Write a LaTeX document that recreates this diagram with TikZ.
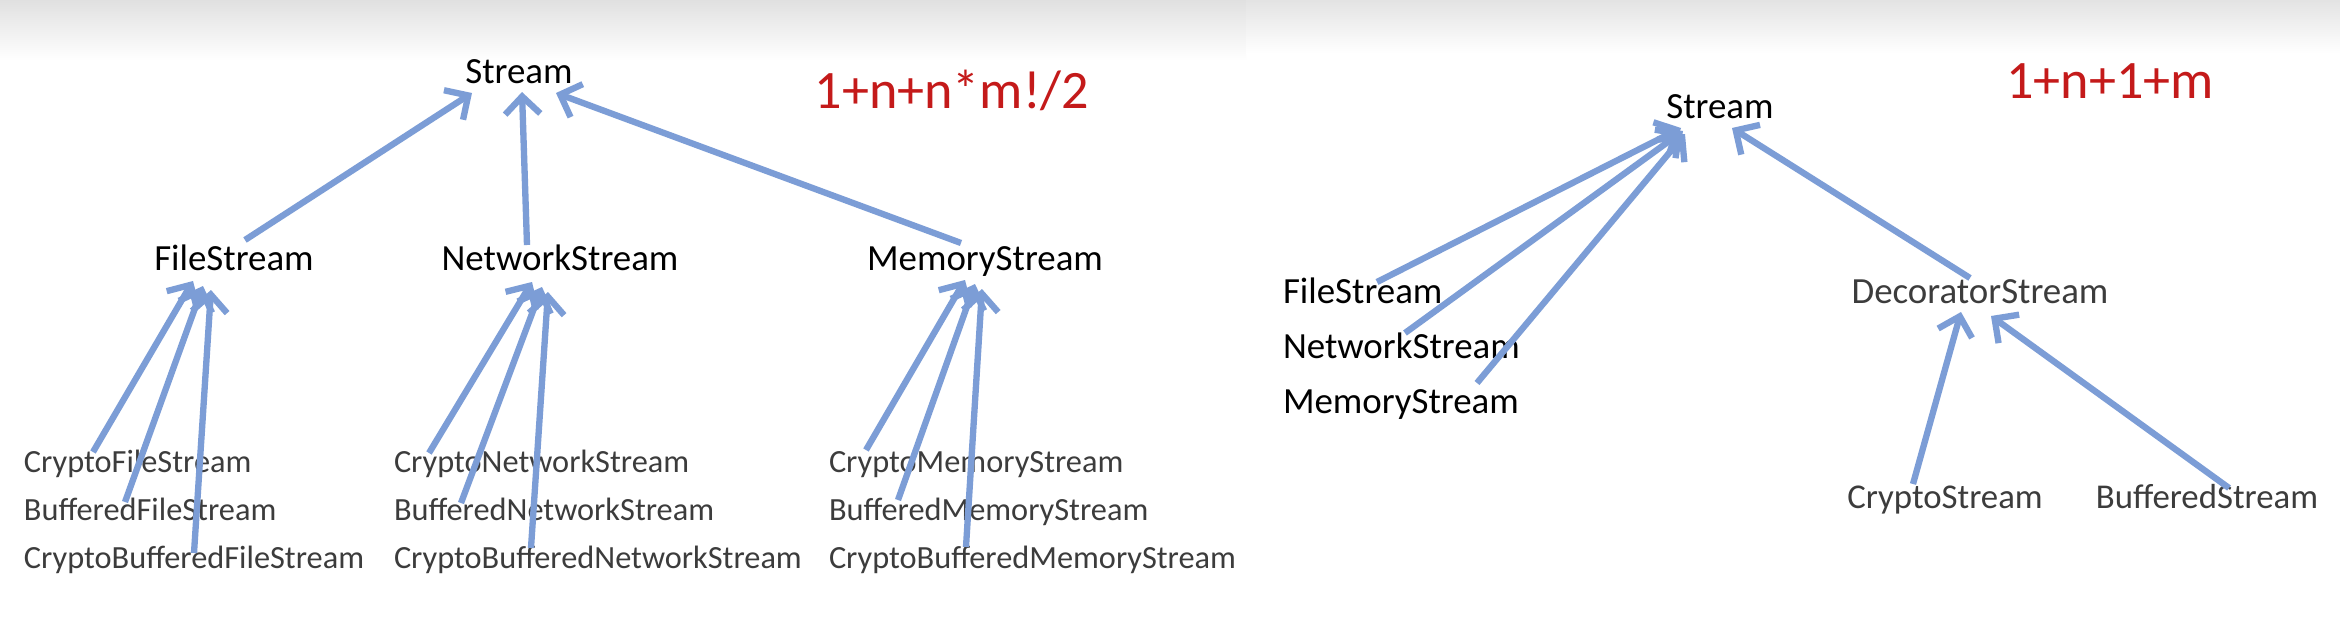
\documentclass[tikz,border=0pt]{standalone}
\usepackage{fontspec}
\setmainfont{Carlito}
\usetikzlibrary{arrows.meta}
\definecolor{arrblue}{RGB}{124,157,214}
\definecolor{formred}{RGB}{196,26,26}
\definecolor{subgray}{RGB}{60,60,60}
\tikzset{
  lbl/.style={inner sep=0pt, outer sep=0pt, text=black, font=\fontsize{10.5}{12}\selectfont},
  sub/.style={inner sep=0pt, outer sep=0pt, text=subgray, font=\fontsize{9.2}{11}\selectfont},
  subr/.style={inner sep=0pt, outer sep=0pt, text=subgray, font=\fontsize{9.9}{11}\selectfont},
  formula/.style={inner sep=0pt, outer sep=0pt, text=formred, font=\fontsize{15.4}{18}\selectfont},
  arr/.style={draw=arrblue, line width=1.8pt, -{Straight Barb[length=5pt,width=10pt]}}
}
\begin{document}
\begin{tikzpicture}
\useasboundingbox (0,0) rectangle (23.4,-6.32);
\fill[white] (0,0) rectangle (23.4,-6.32);
% slide header gradients
\shade[top color=black!12, bottom color=white] (0,0) rectangle (12.46,-0.60);
\shade[top color=black!11, bottom color=white] (12.46,0) rectangle (23.4,-0.53);

% ---------- left diagram ----------
\node[lbl, anchor=base] (S1) at (5.19,-0.83) {Stream};
\node[formula, anchor=base] (F1) at (9.52,-1.08) {1+n+n*m!/2};
\node[lbl, anchor=base] (fs1) at (2.34,-2.70) {FileStream};
\node[lbl, anchor=base] (ns1) at (5.60,-2.70) {NetworkStream};
\node[lbl, anchor=base] (ms1) at (9.85,-2.70) {MemoryStream};

\node[sub, anchor=base west] (c1) at (0.24,-4.72) {CryptoFileStream};
\node[sub, anchor=base west] (b1) at (0.24,-5.20) {BufferedFileStream};
\node[sub, anchor=base west] (cb1) at (0.24,-5.68) {CryptoBufferedFileStream};
\node[sub, anchor=base west] (c2) at (3.94,-4.72) {CryptoNetworkStream};
\node[sub, anchor=base west] (b2) at (3.94,-5.20) {BufferedNetworkStream};
\node[sub, anchor=base west] (cb2) at (3.94,-5.68) {CryptoBufferedNetworkStream};
\node[sub, anchor=base west] (c3) at (8.29,-4.72) {CryptoMemoryStream};
\node[sub, anchor=base west] (b3) at (8.29,-5.20) {BufferedMemoryStream};
\node[sub, anchor=base west] (cb3) at (8.29,-5.68) {CryptoBufferedMemoryStream};

\draw[arr] ([shift={(0.11,0.30)}]fs1.base) -- ([shift={(-0.47,-0.10)}]S1.base);
\draw[arr] ([shift={(-0.33,0.25)}]ns1.base) -- ([shift={(0.03,-0.09)}]S1.base);
\draw[arr] ([shift={(-0.24,0.27)}]ms1.base) -- ([shift={(0.37,-0.10)}]S1.base);

\draw[arr] ([shift={(0.69,0.20)}]c1.base west) -- ([shift={(-0.41,-0.11)}]fs1.base);
\draw[arr] ([shift={(1.01,0.18)}]b1.base west) -- ([shift={(-0.31,-0.16)}]fs1.base);
\draw[arr] ([shift={(1.70,0.15)}]cb1.base west) -- ([shift={(-0.23,-0.20)}]fs1.base);

\draw[arr] ([shift={(0.35,0.19)}]c2.base west) -- ([shift={(-0.28,-0.12)}]ns1.base);
\draw[arr] ([shift={(0.67,0.17)}]b2.base west) -- ([shift={(-0.18,-0.17)}]ns1.base);
\draw[arr] ([shift={(1.37,0.20)}]cb2.base west) -- ([shift={(-0.12,-0.22)}]ns1.base);

\draw[arr] ([shift={(0.37,0.22)}]c3.base west) -- ([shift={(-0.20,-0.10)}]ms1.base);
\draw[arr] ([shift={(0.69,0.20)}]b3.base west) -- ([shift={(-0.10,-0.14)}]ms1.base);
\draw[arr] ([shift={(1.37,0.21)}]cb3.base west) -- ([shift={(-0.03,-0.19)}]ms1.base);

% ---------- right diagram ----------
\node[lbl, anchor=base] (S2) at (17.20,-1.18) {Stream};
\node[formula, anchor=base] (F2) at (21.10,-0.98) {1+n+1+m};
\node[lbl, anchor=base west] (fs2) at (12.83,-3.03) {FileStream};
\node[lbl, anchor=base west] (ns2) at (12.83,-3.58) {NetworkStream};
\node[lbl, anchor=base west] (ms2) at (12.83,-4.13) {MemoryStream};
\node[lbl, text=subgray, anchor=base] (ds) at (19.80,-3.03) {DecoratorStream};
\node[subr, anchor=base] (cs) at (19.45,-5.08) {CryptoStream};
\node[subr, anchor=base] (bs) at (22.07,-5.08) {BufferedStream};

\draw[arr] ([shift={(0.94,0.21)}]fs2.base west) -- ([shift={(-0.39,-0.10)}]S2.base);
\draw[arr] ([shift={(1.22,0.25)}]ns2.base west) -- ([shift={(-0.37,-0.13)}]S2.base);
\draw[arr] ([shift={(1.94,0.30)}]ms2.base west) -- ([shift={(-0.35,-0.16)}]S2.base);
\draw[arr] ([shift={(-0.10,0.25)}]ds.base) -- ([shift={(0.12,-0.10)}]S2.base);
\draw[arr] ([shift={(-0.32,0.24)}]cs.base) -- ([shift={(-0.19,-0.09)}]ds.base);
\draw[arr] ([shift={(0.22,0.20)}]bs.base) -- ([shift={(0.11,-0.13)}]ds.base);
\end{tikzpicture}
\end{document}
